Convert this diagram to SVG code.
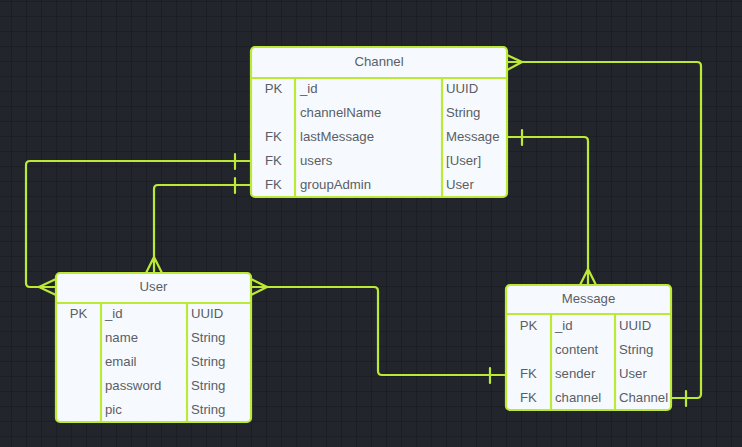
<svg xmlns="http://www.w3.org/2000/svg" width="742" height="447" viewBox="0 0 742 447">
<defs>
<pattern id="grid" patternUnits="userSpaceOnUse" x="11" y="1" width="15" height="15">
<path d="M0 0.5 H15 M0.5 0 V15" fill="none" stroke="#1b1e23" stroke-width="1"/>
</pattern>
<style>
.ln{fill:none;stroke:#bce935;stroke-width:2.2;stroke-linecap:round;stroke-linejoin:round}
.box{fill:#f6fafe;stroke:#bce935;stroke-width:2.2}
.dv{stroke:#bce935;stroke-width:2.2}
.t{font-family:"Liberation Sans",Arial,sans-serif;font-size:13.2px;fill:#5a5e66}
.c{text-anchor:middle}
</style>
</defs>
<rect width="742" height="447" fill="#22262c"/>
<rect width="742" height="447" fill="url(#grid)"/>
<g id="connectors">
<path class="ln" d="M251 161 H30 Q26 161 26 165 V283 Q26 287 30 287 H56 M39 287 L56 279 M39 287 L56 295 M235 154 V169"/>
<path class="ln" d="M251 185 H158 Q154 185 154 189 V273 M154 257 L146 273 M154 257 L162 273 M235 178 V193"/>
<path class="ln" d="M507 137 H584 Q588 137 588 141 V285 M588 269 L580 285 M588 269 L596 285 M522 130 V145"/>
<path class="ln" d="M507 62 H697 Q701 62 701 66 V394 Q701 398 697 398 H671 M522 62 L507 55 M522 62 L507 70 M686 391 V406"/>
<path class="ln" d="M251 287 H374 Q378 287 378 291 V371 Q378 375 382 375 H506 M267 287 L251 279 M267 287 L251 295 M490 368 V383"/>
</g>
<g id="channel">
<rect class="box" x="251" y="47" width="256" height="150" rx="4"/>
<path class="dv" d="M251 78 H507 M295 78 V197 M442 78 V197"/>
<text class="t c" x="379" y="66">Channel</text>
<text class="t c" x="273.5" y="93">PK</text>
<text class="t" x="300" y="93">_id</text>
<text class="t" x="446" y="93">UUID</text>
<text class="t" x="300" y="117">channelName</text>
<text class="t" x="446" y="117">String</text>
<text class="t c" x="273.5" y="141">FK</text>
<text class="t" x="300" y="141">lastMessage</text>
<text class="t" x="446" y="141">Message</text>
<text class="t c" x="273.5" y="165">FK</text>
<text class="t" x="300" y="165">users</text>
<text class="t" x="446" y="165">[User]</text>
<text class="t c" x="273.5" y="189">FK</text>
<text class="t" x="300" y="189">groupAdmin</text>
<text class="t" x="446" y="189">User</text>
</g>
<g id="user">
<rect class="box" x="56" y="273" width="195" height="149" rx="4"/>
<path class="dv" d="M56 303 H251 M101 303 V422 M187 303 V422"/>
<text class="t c" x="153.5" y="291">User</text>
<text class="t c" x="78.5" y="318">PK</text>
<text class="t" x="105" y="318">_id</text>
<text class="t" x="191" y="318">UUID</text>
<text class="t" x="105" y="342">name</text>
<text class="t" x="191" y="342">String</text>
<text class="t" x="105" y="366">email</text>
<text class="t" x="191" y="366">String</text>
<text class="t" x="105" y="390">password</text>
<text class="t" x="191" y="390">String</text>
<text class="t" x="105" y="414">pic</text>
<text class="t" x="191" y="414">String</text>
</g>
<g id="message">
<rect class="box" x="506" y="285" width="165" height="125" rx="4"/>
<path class="dv" d="M506 314 H671 M551 314 V410 M615 314 V410"/>
<text class="t c" x="588.5" y="303">Message</text>
<text class="t c" x="528.5" y="330">PK</text>
<text class="t" x="555" y="330">_id</text>
<text class="t" x="619" y="330">UUID</text>
<text class="t" x="555" y="354">content</text>
<text class="t" x="619" y="354">String</text>
<text class="t c" x="528.5" y="378">FK</text>
<text class="t" x="555" y="378">sender</text>
<text class="t" x="619" y="378">User</text>
<text class="t c" x="528.5" y="402">FK</text>
<text class="t" x="555" y="402">channel</text>
<text class="t" x="619" y="402">Channel</text>
</g>
</svg>
